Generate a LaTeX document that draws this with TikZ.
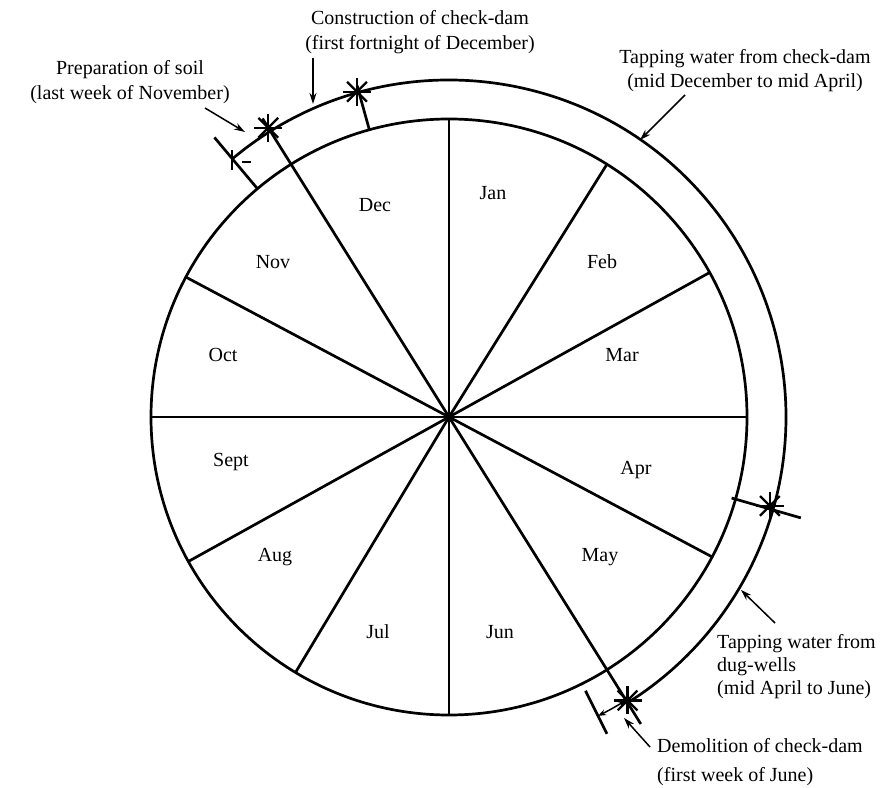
\documentclass[tikz,border=0pt]{standalone}
\usepackage{fontspec}
\setmainfont{Liberation Serif}
\usetikzlibrary{arrows.meta}
\begin{document}
\begin{tikzpicture}[x=1pt,y=1pt,
  heavy/.style={line width=2.7pt},
  lbl/.style={inner sep=0pt, font=\fontsize{20}{24}\selectfont},
  mon/.style={inner sep=0pt, font=\fontsize{20}{24}\selectfont},
  ann/.style={line width=1.5pt, -{Stealth[length=11pt,width=7pt]}},
  dimarrow/.style={line width=1.5pt, {Stealth[length=8pt,width=6pt]}-{Stealth[length=8pt,width=6pt]}},
  asterisk/.pic={\foreach \a in {0,45,...,315} \draw[line width=2.3pt] (0,0) -- (\a:14);}
]
\useasboundingbox (0,0) rectangle (888,787);
\coordinate (C) at (449,370);
\begin{scope}[shift={(C)}]
  \draw[heavy] (0,0) circle[radius=298];
  \foreach \a in {90,58,29,0,-28,-90,-121,-151,180,152}
    \draw[heavy] (0,0) -- (\a:298);
  \draw[heavy] (0,0) -- (122:352);
  \draw[heavy] (0,0) -- (-58:362);
  % outer arc
  \draw[heavy] (130:337) arc[start angle=130, end angle=-58, radius=337];
  % ticks
  \draw[heavy] (105.5:298) -- (105.5:344);
  \draw[heavy] (130:298) -- (130:365);
  \draw[heavy] (-16:294) -- (-16:366);
  \draw[heavy] (-63.5:306) -- (-63.5:354);
  \draw[dimarrow] (-63.5:334) arc[start angle=-63.5, end angle=-58, radius=334];
  % asterisks
  \pic at (122:341) {asterisk};
  \pic at (105.8:338) {asterisk};
  \pic at (-15.5:333) {asterisk};
  \pic at (-57.8:335) {asterisk};
  \draw[line width=2.2pt] (130:337) ++(0,-11) -- ++(0,20);
  \draw[line width=2.2pt] (130:337) ++(10,-3) -- ++(9,0);
\end{scope}
% month labels
\node[mon] (jan) at (493,594) {Jan};
\node[mon] (feb) at (602,525) {Feb};
\node[mon] (mar) at (622,432) {Mar};
\node[mon] (apr) at (636,317) {Apr};
\node[mon] (may) at (600,230) {May};
\node[mon] (jun) at (500,155) {Jun};
\node[mon] (jul) at (378,155) {Jul};
\node[mon] (aug) at (275,230) {Aug};
\node[mon] (sep) at (231,325) {Sept};
\node[mon] (oct) at (223,432) {Oct};
\node[mon] (nov) at (273,525) {Nov};
\node[mon] (dec) at (375,582) {Dec};
% annotations
\node[lbl, anchor=base] (con1) at (420,762) {Construction of check-dam};
\node[lbl, anchor=base] (con2) at (420,737) {(first fortnight of December)};
\node[lbl, anchor=base] (pre1) at (130,712) {Preparation of soil};
\node[lbl, anchor=base] (pre2) at (130,687) {(last week of November)};
\node[lbl, anchor=base] (tap1) at (745,723) {Tapping water from check-dam};
\node[lbl, anchor=base] (tap2) at (745,699) {(mid December to mid April)};
\node[lbl, anchor=base west] (dug1) at (717,139) {Tapping water from};
\node[lbl, anchor=base west] (dug2) at (717,116) {dug-wells};
\node[lbl, anchor=base west] (dug3) at (717,93) {(mid April to June)};
\node[lbl, anchor=base west] (dem1) at (657,35) {Demolition of check-dam};
\node[lbl, anchor=base west] (dem2) at (657,6) {(first week of June)};
% arrows
\coordinate (conS) at (313,729);
\coordinate (conT) at (313,683);
\coordinate (preS) at (205,679);
\coordinate (preT) at (245,655);
\coordinate (tapS) at (685,692);
\coordinate (tapT) at (640,647);
\coordinate (dugS) at (775,164);
\coordinate (dugT) at (741,197);
\coordinate (demS) at (650,40);
\coordinate (demT) at (624,69);
\draw[ann] (conS) -- (conT);
\draw[ann] (preS) -- (preT);
\draw[ann] (tapS) -- (tapT);
\draw[ann] (dugS) -- (dugT);
\draw[ann] (demS) -- (demT);
\end{tikzpicture}
\end{document}
